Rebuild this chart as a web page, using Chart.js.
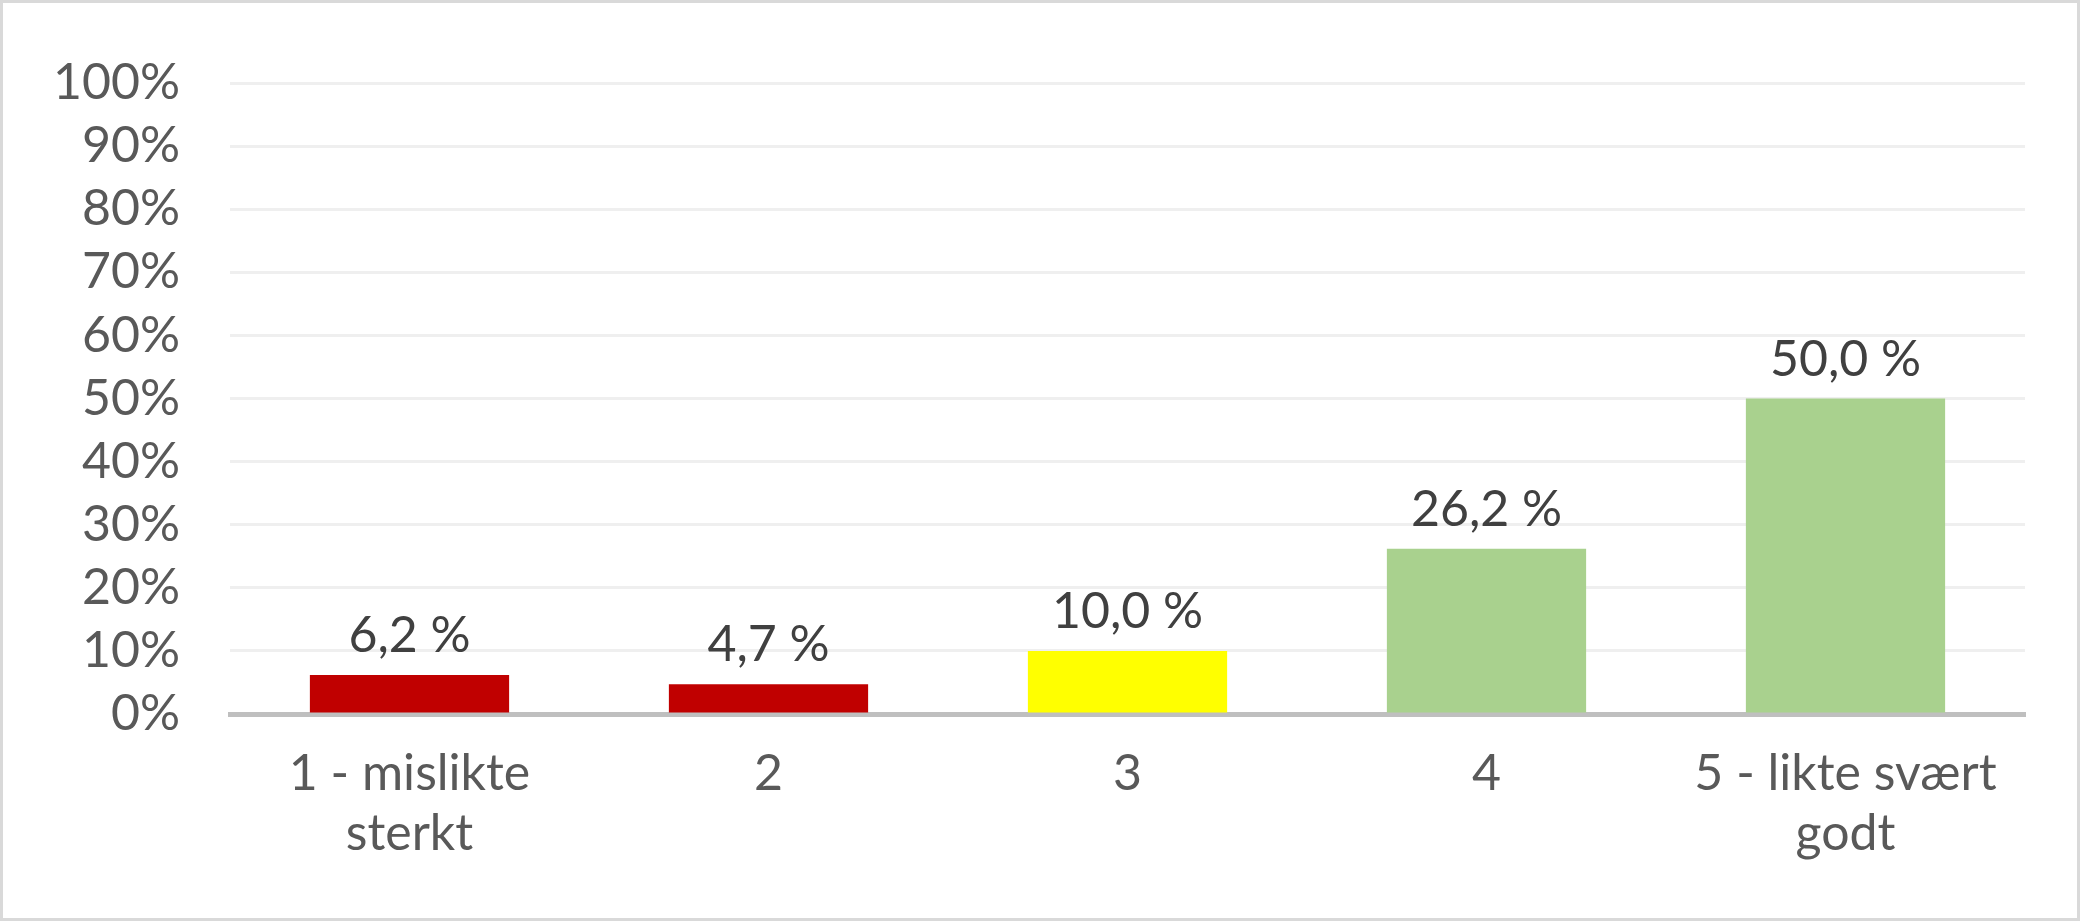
<!DOCTYPE html>
<html lang="no">
<head>
  <meta charset="UTF-8">
  <title>Vurdering</title>
  <script src="https://cdn.jsdelivr.net/npm/chart.js"></script>
  <style>
    html, body { margin: 0; padding: 0; background: #fff; }
    #wrap { width: 2080px; height: 921px; box-sizing: border-box; border: 3px solid #d9d9d9; }
    canvas { display: block; }
  </style>
</head>
<body>
  <div id="wrap"><canvas id="chart" width="2074" height="915"></canvas></div>
  <script>
    const categories = [['1 - mislikte', 'sterkt'], '2', '3', '4', ['5 - likte svært', 'godt']];
    const values = [6.2, 4.7, 10.0, 26.2, 50.0];
    const colors = ['#C00000', '#C00000', '#FFFF00', '#A9D18E', '#A9D18E'];

    const valueLabels = {
      id: 'valueLabels',
      afterDatasetsDraw(chart) {
        const ctx = chart.ctx;
        const meta = chart.getDatasetMeta(0);
        ctx.save();
        ctx.font = '50px Lato, "Open Sans", sans-serif';
        ctx.fillStyle = '#404040';
        ctx.textAlign = 'center';
        ctx.textBaseline = 'bottom';
        meta.data.forEach((bar, i) => {
          ctx.fillText(values[i].toFixed(1).replace('.', ',') + ' %', bar.x, bar.y - 14);
        });
        ctx.restore();
      }
    };

    new Chart(document.getElementById('chart'), {
      type: 'bar',
      data: {
        labels: categories,
        datasets: [{ data: values, backgroundColor: colors, categoryPercentage: 1, barPercentage: 0.555 }]
      },
      options: {
        responsive: false,
        animation: false,
        layout: { padding: { top: 58, right: 52, left: 0, bottom: 0 } },
        plugins: { legend: { display: false }, tooltip: { enabled: false } },
        scales: {
          x: {
            grid: { display: false },
            border: { color: '#bfbfbf', width: 5 },
            ticks: { color: '#595959', font: { size: 50, family: 'Lato, "Open Sans", sans-serif' }, padding: 22, maxRotation: 0 },
            afterFit(s) { s.height = 204; }
          },
          y: {
            min: 0, max: 100,
            ticks: { stepSize: 10, color: '#595959', padding: 50, font: { size: 50, family: 'Lato, "Open Sans", sans-serif' }, callback: v => v + '%' },
            grid: { color: '#efefef', lineWidth: 3, drawTicks: false },
            border: { display: false },
            afterFit(s) { s.width = 227; }
          }
        }
      },
      plugins: [valueLabels]
    });
  </script>
</body>
</html>
